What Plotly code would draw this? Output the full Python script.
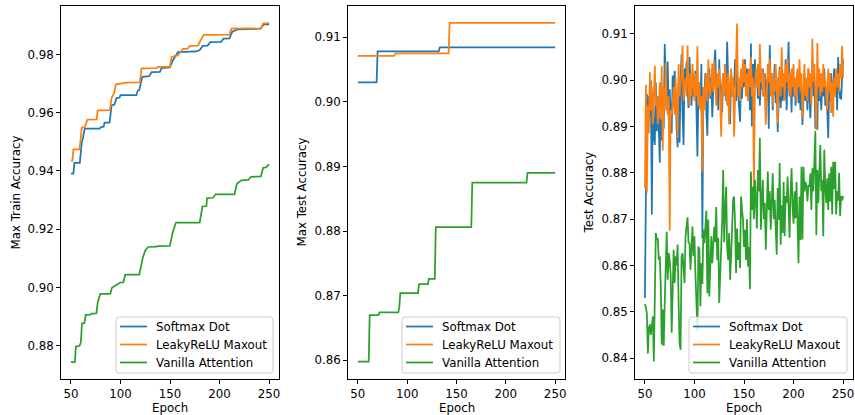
import plotly.graph_objects as go

W, H = 855, 415
FONT = "DejaVu Sans"
FS = 11.8
C_BLUE, C_ORANGE, C_GREEN = "#1f77b4", "#ff7f0e", "#2ca02c"
NAMES = ["Softmax Dot", "LeakyReLU Maxout", "Vanilla Attention"]

# ---------------- Panel 1: Max Train Accuracy (step points)
train_softmax_ep = [50, 52.5, 53.5, 59, 61, 62, 64, 79, 80, 83, 84, 89, 91, 94, 96, 99, 100, 116, 117.5, 119, 122, 129,
                    131.4, 139.8, 141.4, 149.9, 153, 155, 158, 176.7, 180, 183, 188, 190.6, 201.6, 204, 210, 212.9,
                    218.6, 241.3, 244.6, 250]
train_softmax_val = [0.9391, 0.9391, 0.9428, 0.9428, 0.9500, 0.9510, 0.9545, 0.9545, 0.9550, 0.9552, 0.9566, 0.9566,
                     0.9625, 0.9628, 0.9650, 0.9652, 0.9660, 0.9660, 0.9675, 0.9678, 0.9723, 0.9725, 0.9739, 0.9740,
                     0.9753, 0.9755, 0.9780, 0.9790, 0.9808, 0.9810, 0.9815, 0.9829, 0.9830, 0.9842, 0.9843, 0.9854,
                     0.9855, 0.9878, 0.9886, 0.9888, 0.9903, 0.9903]
train_leaky_ep = [50, 51.5, 52.5, 58.7, 61, 64, 66.6, 76, 77, 89.4, 91, 93.4, 95.5, 106, 119.5, 121.3, 136.4, 138,
                  149.9, 151.5, 158, 163, 168, 170, 178.4, 180, 184, 210, 212, 242, 244, 250]
train_leaky_val = [0.9435, 0.9435, 0.9474, 0.9474, 0.9549, 0.9550, 0.9576, 0.9577, 0.9608, 0.9609, 0.9650, 0.9665,
                   0.9697, 0.9703, 0.9704, 0.9752, 0.9753, 0.9757, 0.9757, 0.9791, 0.9797, 0.9819, 0.9820, 0.9829,
                   0.9830, 0.9843, 0.9867, 0.9868, 0.9888, 0.9889, 0.9906, 0.9907]
train_vanilla_ep = [50, 54, 55, 58.7, 60, 61.2, 63.6, 65, 69.6, 70.5, 75.7, 77, 79.6, 89.7, 91.4, 94.7, 99.8, 103,
                    104.8, 119, 122.5, 125, 128, 136.5, 138, 149.9, 152.6, 156, 180, 182.7, 186.7, 187.4, 193.4, 196,
                    215, 217.5, 222, 229, 231.6, 241.7, 244, 247, 250]
train_vanilla_val = [0.8744, 0.8744, 0.8797, 0.8800, 0.8811, 0.8877, 0.8878, 0.8906, 0.8907, 0.8910, 0.8911, 0.8948,
                     0.8978, 0.8978, 0.8999, 0.9005, 0.9017, 0.9018, 0.9044, 0.9044, 0.9101, 0.9127, 0.9139, 0.9140,
                     0.9142, 0.9143, 0.9188, 0.9223, 0.9223, 0.9278, 0.9279, 0.9307, 0.9308, 0.9320, 0.9320, 0.9356,
                     0.9368, 0.9369, 0.9380, 0.9381, 0.9411, 0.9412, 0.9423]

# ---------------- Panel 2: Max Test Accuracy
maxtest_softmax_ep = [50, 69, 70, 132, 133, 250]
maxtest_softmax_val = [0.9030, 0.9030, 0.9078, 0.9078, 0.9084, 0.9084]
maxtest_leaky_ep = [50, 87, 88, 142, 143, 250]
maxtest_leaky_val = [0.9071, 0.9071, 0.9075, 0.9075, 0.9122, 0.9122]
maxtest_vanilla_ep = [50, 61, 62, 71, 72, 91, 92, 93, 111, 112, 121, 122, 128, 129, 165, 166, 221, 222, 250]
maxtest_vanilla_val = [0.8598, 0.8598, 0.8670, 0.8670, 0.8674, 0.8674, 0.8682, 0.8704, 0.8704, 0.8718, 0.8718,
                       0.8726, 0.8726, 0.8806, 0.8806, 0.8875, 0.8875, 0.8890, 0.8890]

# ---------------- Panel 3: Test Accuracy per epoch (epochs 50..250)
epochs = list(range(50, 251))
test_softmax = [
    0.853, 0.888, 0.897, 0.889, 0.8965, 0.892, 0.900, 0.871, 0.8975, 0.888,
    0.886, 0.8995, 0.889, 0.8965, 0.8905, 0.8822, 0.8985, 0.887, 0.897, 0.8895,
    0.9078, 0.8995, 0.8935, 0.904, 0.8915, 0.898, 0.894, 0.8885, 0.901, 0.8955,
    0.902, 0.8975, 0.8895, 0.8855, 0.8995, 0.8865, 0.900, 0.9055, 0.8925, 0.886,
    0.9025, 0.8985, 0.904, 0.8965, 0.894, 0.905, 0.8995, 0.8945, 0.9015, 0.8965,
    0.8985, 0.902, 0.8935, 0.8835, 0.8975, 0.8995, 0.894, 0.9035, 0.8658, 0.8985,
    0.8965, 0.9015, 0.893, 0.888, 0.8995, 0.9025, 0.896, 0.9005, 0.892, 0.899,
    0.9035, 0.9066, 0.8975, 0.901, 0.8935, 0.9045, 0.8965, 0.899, 0.893, 0.9015,
    0.897, 0.9035, 0.8955, 0.9083, 0.8985, 0.892, 0.8905, 0.902, 0.8965, 0.9005,
    0.8985, 0.9045, 0.8955, 0.9025, 0.8975, 0.8935, 0.891, 0.9005, 0.896, 0.902,
    0.8985, 0.9045, 0.8995, 0.9025, 0.8985, 0.9015, 0.8935, 0.9079, 0.890, 0.9035,
    0.8985, 0.9045, 0.8995, 0.9015, 0.896, 0.9035, 0.8945, 0.9005, 0.898, 0.9025,
    0.8965, 0.9015, 0.893, 0.8995, 0.9005, 0.8895, 0.9076, 0.897, 0.9015, 0.8935,
    0.8985, 0.9035, 0.895, 0.9005, 0.8888, 0.8965, 0.9029, 0.894, 0.899, 0.8955,
    0.9015, 0.896, 0.9045, 0.8935, 0.899, 0.9083, 0.8965, 0.9005, 0.893, 0.9025,
    0.8965, 0.9005, 0.8945, 0.898, 0.902, 0.895, 0.8995, 0.8935, 0.8985, 0.8903,
    0.8975, 0.9015, 0.8955, 0.8995, 0.8935, 0.9025, 0.8965, 0.8918, 0.899, 0.9045,
    0.8965, 0.9005, 0.8895, 0.8975, 0.8893, 0.9015, 0.8955, 0.8985, 0.8935, 0.9005,
    0.8965, 0.9025, 0.8945, 0.8985, 0.8935, 0.8875, 0.8995, 0.8955, 0.9015, 0.8945,
    0.8985, 0.9025, 0.8965, 0.9005, 0.8935, 0.905, 0.8985, 0.8961, 0.896, 0.9005, 0.9045]
test_leaky = [
    0.8767, 0.899, 0.8757, 0.8945, 0.8885, 0.9017, 0.8935, 0.8985, 0.8905, 0.899,
    0.9031, 0.8945, 0.8965, 0.8905, 0.8935, 0.8995, 0.8915, 0.903, 0.8848, 0.8985,
    0.8935, 0.9038, 0.8945, 0.8925, 0.8965, 0.8675, 0.8935, 0.8925, 0.8945, 0.8985,
    0.8925, 0.9005, 0.8955, 0.8875, 0.9035, 0.8965, 0.8995, 0.9015, 0.9075, 0.8955,
    0.8985, 0.9005, 0.8965, 0.9075, 0.8995, 0.8945, 0.9015, 0.8965, 0.9035, 0.8985,
    0.8955, 0.9015, 0.8965, 0.9073, 0.8945, 0.8995, 0.8935, 0.8965, 0.8803, 0.8985,
    0.8935, 0.8995, 0.9015, 0.8955, 0.9045, 0.8985, 0.8965, 0.8995, 0.9035, 0.8975,
    0.9043, 0.8995, 0.8945, 0.9015, 0.8985, 0.9025, 0.8965, 0.8878, 0.8995, 0.9015,
    0.8965, 0.9035, 0.8985, 0.8945, 0.9015, 0.8905, 0.8995, 0.9025, 0.8965, 0.9005,
    0.8878, 0.8985, 0.9035, 0.9122, 0.8965, 0.9005, 0.8955, 0.9025, 0.8985, 0.9045,
    0.8995, 0.9035, 0.8965, 0.9015, 0.8955, 0.9025, 0.8985, 0.905, 0.8965, 0.9005,
    0.8767, 0.8975, 0.9025, 0.8985, 0.9035, 0.8965, 0.9078, 0.8995, 0.9025, 0.8965,
    0.9015, 0.8975, 0.8904, 0.8985, 0.9035, 0.8995, 0.9045, 0.8965, 0.9015, 0.8945,
    0.9005, 0.8975, 0.9035, 0.8985, 0.8907, 0.8995, 0.9025, 0.8965, 0.9071, 0.8985,
    0.9015, 0.8955, 0.9035, 0.8995, 0.9045, 0.8975, 0.9015, 0.8965, 0.9025, 0.8985,
    0.9035, 0.8965, 0.9005, 0.8955, 0.9025, 0.8985, 0.9045, 0.8975, 0.9015, 0.8918,
    0.8995, 0.9035, 0.8965, 0.9005, 0.8955, 0.9025, 0.8985, 0.9015, 0.8945, 0.909,
    0.8995, 0.9035, 0.8965, 0.8893, 0.908, 0.8985, 0.9025, 0.8965, 0.9015, 0.8975,
    0.9035, 0.8985, 0.9005, 0.8955, 0.8935, 0.9025, 0.8975, 0.9015, 0.8929, 0.8995,
    0.8921, 0.9005, 0.8965, 0.9025, 0.8985, 0.9015, 0.8975, 0.9035, 0.9005, 0.9074, 0.9005]
test_vanilla = [
    0.8517, 0.8510, 0.8495, 0.8410, 0.8465, 0.8473, 0.8450, 0.8476, 0.8490, 0.8393,
    0.8520, 0.8670, 0.8655, 0.8659, 0.8612, 0.8620, 0.8560, 0.8429, 0.8505, 0.8426,
    0.8520, 0.8605, 0.8673, 0.8569, 0.8627, 0.8612, 0.8580, 0.8455, 0.8560, 0.8634,
    0.8562, 0.8620, 0.8600, 0.8645, 0.8520, 0.8433, 0.8418, 0.8620, 0.8627, 0.8590,
    0.8562, 0.8663, 0.8682, 0.8704, 0.8650, 0.8648, 0.8591, 0.8640, 0.8684, 0.8620,
    0.8663, 0.8580, 0.8497, 0.8460, 0.8641, 0.8634, 0.8512, 0.8605, 0.8560, 0.8677,
    0.8648, 0.8690, 0.8718, 0.8540, 0.8699, 0.8533, 0.8600, 0.8663, 0.8605, 0.8640,
    0.8684, 0.8650, 0.8726, 0.8612, 0.8660, 0.8519, 0.8569, 0.8650, 0.8700, 0.8806,
    0.8650, 0.8720, 0.8770, 0.8640, 0.8612, 0.8670, 0.8569, 0.8620, 0.8700, 0.8742,
    0.8749, 0.8690, 0.8584, 0.8680, 0.8612, 0.8650, 0.8594, 0.8749, 0.8720, 0.8699,
    0.8640, 0.8677, 0.8612, 0.8700, 0.8598, 0.8640, 0.8549, 0.8803, 0.8720, 0.8770,
    0.8700, 0.8785, 0.8742, 0.8680, 0.8806, 0.8760, 0.8875, 0.8677, 0.8740, 0.8785,
    0.8700, 0.8735, 0.8634, 0.8770, 0.8803, 0.8720, 0.8760, 0.8677, 0.8740, 0.8799,
    0.8700, 0.8742, 0.8680, 0.8623, 0.8767, 0.8699, 0.8821, 0.8645, 0.8730, 0.8670,
    0.8780, 0.8663, 0.8750, 0.8735, 0.8792, 0.8713, 0.8660, 0.8760, 0.8810, 0.8727,
    0.8690, 0.8760, 0.8702, 0.8780, 0.8700, 0.8605, 0.8749, 0.8655, 0.8813, 0.8656,
    0.8813, 0.8760, 0.8781, 0.8770, 0.8738, 0.8774, 0.8770, 0.8799, 0.8720, 0.8810,
    0.8760, 0.8850, 0.8890, 0.8665, 0.8806, 0.8735, 0.8824, 0.8860, 0.8760, 0.8785,
    0.8663, 0.8850, 0.8770, 0.8735, 0.8788, 0.8720, 0.8799, 0.8738, 0.8813, 0.8710,
    0.8824, 0.8765, 0.8824, 0.8710, 0.8760, 0.8740, 0.8800, 0.8707, 0.8750, 0.8740, 0.8750]

# ---------------- ranges / ticks
x_range = [40, 260]
x_ticks = [50, 100, 150, 200, 250]
panel_yranges = [[0.8686, 0.9966], [0.85711, 0.91482], [0.8355, 0.9160]]
panel_yticks = [[0.88, 0.90, 0.92, 0.94, 0.96, 0.98],
                [0.86, 0.87, 0.88, 0.89, 0.90, 0.91],
                [0.84, 0.85, 0.86, 0.87, 0.88, 0.89, 0.90, 0.91]]
y_titles = ["Max Train Accuracy", "Max Test Accuracy", "Test Accuracy"]
x_title = "Epoch"

# pixel layout
px_left = [61, 348, 635]
px_right = [279, 565, 853]
px_top, px_bottom = 6, 379
ytitle_x = [15, 301, 588]
leg_left = [116, 402, 689]
leg_right = [273, 560, 847]
leg_top, leg_bottom = 317, 373

series = [
    [(train_softmax_ep, train_softmax_val), (train_leaky_ep, train_leaky_val), (train_vanilla_ep, train_vanilla_val)],
    [(maxtest_softmax_ep, maxtest_softmax_val), (maxtest_leaky_ep, maxtest_leaky_val),
     (maxtest_vanilla_ep, maxtest_vanilla_val)],
    [(epochs, test_softmax), (epochs, test_leaky), (epochs, test_vanilla)],
]
colors = [C_BLUE, C_ORANGE, C_GREEN]


def PX(x):
    return x / W


def PY(y):
    return 1 - y / H


fig = go.Figure()
for p in range(3):
    ax = "" if p == 0 else str(p + 1)
    for s in range(3):
        xs, ys = series[p][s]
        fig.add_trace(go.Scatter(
            x=xs, y=ys, mode="lines", name=NAMES[s], showlegend=False,
            line=dict(color=colors[s], width=1.75),
            xaxis="x" + ax, yaxis="y" + ax, hoverinfo="skip"))

layout = dict(
    width=W, height=H,
    margin=dict(l=0, r=0, t=0, b=0),
    paper_bgcolor="white", plot_bgcolor="white",
    font=dict(family=FONT, size=FS, color="black"),
    showlegend=False,
)
ydom = [PY(px_bottom), PY(px_top)]
axis_common = dict(showgrid=False, zeroline=False, showline=True, linecolor="black", linewidth=0.9,
                   mirror=True, ticks="outside", ticklen=4, tickwidth=0.9, tickcolor="black",
                   tickfont=dict(family=FONT, size=FS, color="black"))
annotations = []
shapes = []
r = 3
for p in range(3):
    ax = "" if p == 0 else str(p + 1)
    layout["xaxis" + ax] = dict(domain=[PX(px_left[p]), PX(px_right[p])], range=x_range,
                                tickvals=x_ticks, anchor="y" + ax, **axis_common)
    layout["yaxis" + ax] = dict(domain=ydom, range=panel_yranges[p], tickvals=panel_yticks[p],
                                tickformat=".2f", anchor="x" + ax, **axis_common)
    annotations.append(dict(text=x_title, xref="paper", yref="paper",
                            x=PX((px_left[p] + px_right[p]) / 2), y=PY(407.5),
                            xanchor="center", yanchor="middle", showarrow=False,
                            font=dict(family=FONT, size=FS, color="black")))
    annotations.append(dict(text=y_titles[p], xref="paper", yref="paper", textangle=-90,
                            x=PX(ytitle_x[p]), y=PY((px_top + px_bottom) / 2),
                            xanchor="center", yanchor="middle", showarrow=False,
                            font=dict(family=FONT, size=FS, color="black")))
    # legend box (rounded)
    x0, x1, y0, y1 = leg_left[p], leg_right[p], leg_top, leg_bottom
    path = (f"M {PX(x0 + r)},{PY(y0)} L {PX(x1 - r)},{PY(y0)} Q {PX(x1)},{PY(y0)} {PX(x1)},{PY(y0 + r)} "
            f"L {PX(x1)},{PY(y1 - r)} Q {PX(x1)},{PY(y1)} {PX(x1 - r)},{PY(y1)} "
            f"L {PX(x0 + r)},{PY(y1)} Q {PX(x0)},{PY(y1)} {PX(x0)},{PY(y1 - r)} "
            f"L {PX(x0)},{PY(y0 + r)} Q {PX(x0)},{PY(y0)} {PX(x0 + r)},{PY(y0)} Z")
    shapes.append(dict(type="path", path=path, xref="paper", yref="paper", layer="above",
                       fillcolor="rgba(255,255,255,0.8)", line=dict(color="#cccccc", width=1)))
    for s in range(3):
        ry = y0 + 9.5 + 18 * s
        shapes.append(dict(type="line", xref="paper", yref="paper", layer="above",
                           x0=PX(x0 + 4), x1=PX(x0 + 31), y0=PY(ry), y1=PY(ry),
                           line=dict(color=colors[s], width=1.75)))
        annotations.append(dict(text=NAMES[s], xref="paper", yref="paper", x=PX(x0 + 38), y=PY(ry),
                                xanchor="left", yanchor="middle", showarrow=False,
                                font=dict(family=FONT, size=FS, color="black")))
layout["annotations"] = annotations
layout["shapes"] = shapes
fig.update_layout(**layout)
fig.write_html("out.html")
